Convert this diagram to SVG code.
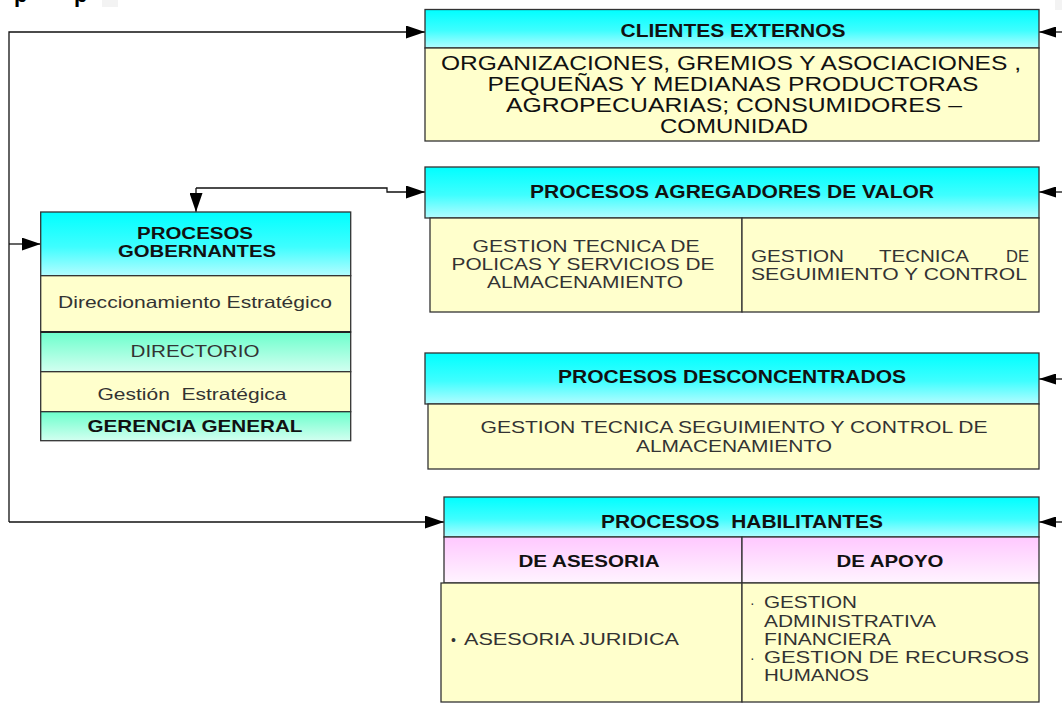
<svg xmlns="http://www.w3.org/2000/svg" width="1062" height="704" viewBox="0 0 1062 704">
<defs>
  <linearGradient id="cyan" x1="0" y1="0" x2="0" y2="1">
    <stop offset="0" stop-color="#00FFFF"/>
    <stop offset="0.55" stop-color="#3FFEFF"/>
    <stop offset="1" stop-color="#B4FCFF"/>
  </linearGradient>
  <linearGradient id="teal" x1="0" y1="0" x2="0" y2="1">
    <stop offset="0" stop-color="#6CFFCC"/>
    <stop offset="1" stop-color="#D2FFF0"/>
  </linearGradient>
  <linearGradient id="pink" x1="0" y1="0" x2="0" y2="1">
    <stop offset="0" stop-color="#FFC8FF"/>
    <stop offset="1" stop-color="#FFF4FF"/>
  </linearGradient>
  <marker id="arr" markerUnits="userSpaceOnUse" markerWidth="19" markerHeight="13" refX="19" refY="6.5" orient="auto">
    <path d="M0,0 L19,6.5 L0,13 z" fill="#000"/>
  </marker>
  <marker id="arrS" markerUnits="userSpaceOnUse" markerWidth="17" markerHeight="11" refX="17" refY="5.5" orient="auto">
    <path d="M0,0 L17,5.5 L0,11 z" fill="#000"/>
  </marker>
  <style>
    .box { stroke:#333; stroke-width:1.3; }
    .hdr { fill:url(#cyan); }
    .yel { fill:#FFFFCC; }
    .tea { fill:url(#teal); }
    .pnk { fill:url(#pink); }
    .conn { fill:none; stroke:#111; stroke-width:1.3; }
    text { font-family:"Liberation Sans", Arial, sans-serif; }
    .b { font-weight:bold; fill:#111; }
    .t { fill:#333; }
    .k { fill:#111; }
    .m { text-anchor:middle; }
  </style>
</defs>

<!-- page artifacts -->
<text x="14" y="2" font-family="'Liberation Serif', serif" font-weight="bold" font-size="22" fill="#000">p</text>
<text x="74" y="2" font-family="'Liberation Serif', serif" font-weight="bold" font-size="22" fill="#000">p</text>
<rect x="102" y="0" width="16" height="7" fill="#F3F3F3"/>
<rect x="1055" y="0" width="7" height="10" fill="#F3F3F3"/>

<g id="connectors">
  <path class="conn" d="M9,522 V32 H425" marker-end="url(#arr)"/>
  <path class="conn" d="M9,244 H40.7" marker-end="url(#arr)"/>
  <path class="conn" d="M9,522 H444" marker-end="url(#arr)"/>
  <path class="conn" d="M196,188 H387 V192 H425" marker-end="url(#arr)"/>
  <path class="conn" d="M196,188 V212" marker-end="url(#arr)"/>
  <path class="conn" d="M1062,32 H1039" marker-end="url(#arrS)"/>
  <path class="conn" d="M1062,192 H1039" marker-end="url(#arrS)"/>
  <path class="conn" d="M1062,379 H1039" marker-end="url(#arrS)"/>
  <path class="conn" d="M1062,522 H1039" marker-end="url(#arrS)"/>
</g>

<g id="clientes-externos">
  <rect class="box hdr" x="425" y="9.5" width="614" height="38.5"/>
  <rect class="box yel" x="425" y="48" width="614" height="93"/>
  <text class="b m" x="733" y="37" font-size="17.5" textLength="225" lengthAdjust="spacingAndGlyphs">CLIENTES EXTERNOS</text>
  <text class="k m" x="731" y="70" font-size="20.5" textLength="580" lengthAdjust="spacingAndGlyphs">ORGANIZACIONES, GREMIOS Y ASOCIACIONES ,</text>
  <text class="k m" x="733" y="91" font-size="20.5" textLength="491" lengthAdjust="spacingAndGlyphs">PEQUEÑAS Y MEDIANAS PRODUCTORAS</text>
  <text class="k m" x="734" y="112" font-size="20.5" textLength="456" lengthAdjust="spacingAndGlyphs">AGROPECUARIAS; CONSUMIDORES –</text>
  <text class="k m" x="734" y="133" font-size="20.5" textLength="148" lengthAdjust="spacingAndGlyphs">COMUNIDAD</text>
</g>

<g id="procesos-agregadores">
  <rect class="box hdr" x="425" y="167" width="614" height="51"/>
  <rect class="box yel" x="430" y="218" width="312" height="94"/>
  <rect class="box yel" x="742" y="218" width="297" height="94"/>
  <text class="b m" x="732" y="198" font-size="17.5" textLength="404" lengthAdjust="spacingAndGlyphs">PROCESOS AGREGADORES DE VALOR</text>
  <text class="t m" x="586" y="252" font-size="16.5" textLength="227" lengthAdjust="spacingAndGlyphs">GESTION TECNICA DE</text>
  <text class="t m" x="583" y="270" font-size="16.5" textLength="263" lengthAdjust="spacingAndGlyphs">POLICAS Y SERVICIOS DE</text>
  <text class="t m" x="585" y="288" font-size="16.5" textLength="196" lengthAdjust="spacingAndGlyphs">ALMACENAMIENTO</text>
  <text class="t" x="751" y="262" font-size="16.5" textLength="93" lengthAdjust="spacingAndGlyphs">GESTION</text>
  <text class="t" x="879" y="262" font-size="16.5" textLength="90" lengthAdjust="spacingAndGlyphs">TECNICA</text>
  <text class="t" x="1006" y="262" font-size="16.5" textLength="23" lengthAdjust="spacingAndGlyphs">DE</text>
  <text class="t" x="751" y="280" font-size="16.5" textLength="276" lengthAdjust="spacingAndGlyphs">SEGUIMIENTO Y CONTROL</text>
</g>

<g id="procesos-gobernantes">
  <rect class="box hdr" x="40.7" y="212" width="310" height="63.7"/>
  <rect class="box yel" x="40.7" y="275.7" width="310" height="56.3"/>
  <rect class="box tea" x="40.7" y="332" width="310" height="39.7"/>
  <rect class="box yel" x="40.7" y="371.7" width="310" height="40"/>
  <rect class="box tea" x="40.7" y="411.7" width="310" height="29"/>
  <line x1="40.7" y1="332" x2="350.7" y2="332" stroke="#222" stroke-width="2"/>
  <text class="b m" x="195" y="239" font-size="16" textLength="116" lengthAdjust="spacingAndGlyphs">PROCESOS</text>
  <text class="b m" x="197" y="257" font-size="16" textLength="158" lengthAdjust="spacingAndGlyphs">GOBERNANTES</text>
  <text class="t m" x="195" y="308" font-size="16.5" textLength="274" lengthAdjust="spacingAndGlyphs">Direccionamiento Estratégico</text>
  <text class="t m" x="195" y="357" font-size="16" textLength="129" lengthAdjust="spacingAndGlyphs">DIRECTORIO</text>
  <text class="t m" x="192" y="400" font-size="16.5" textLength="189" lengthAdjust="spacingAndGlyphs" style="white-space:pre">Gestión  Estratégica</text>
  <text class="b m" x="195" y="432" font-size="17" textLength="215" lengthAdjust="spacingAndGlyphs">GERENCIA GENERAL</text>
</g>

<g id="procesos-desconcentrados">
  <rect class="box hdr" x="425" y="353" width="614" height="51"/>
  <rect class="box yel" x="428" y="404" width="611" height="65"/>
  <text class="b m" x="732" y="383" font-size="17.5" textLength="348" lengthAdjust="spacingAndGlyphs">PROCESOS DESCONCENTRADOS</text>
  <text class="t m" x="734" y="433" font-size="16.5" textLength="507" lengthAdjust="spacingAndGlyphs">GESTION TECNICA SEGUIMIENTO Y CONTROL DE</text>
  <text class="t m" x="734" y="452" font-size="16.5" textLength="196" lengthAdjust="spacingAndGlyphs">ALMACENAMIENTO</text>
</g>

<g id="procesos-habilitantes">
  <rect class="box hdr" x="444" y="497" width="595" height="40"/>
  <rect class="box pnk" x="444" y="537" width="298" height="46"/>
  <rect class="box pnk" x="742" y="537" width="297" height="46"/>
  <rect class="box yel" x="441" y="583" width="301" height="119"/>
  <rect class="box yel" x="742" y="583" width="297" height="119"/>
  <text class="b m" x="742" y="528" font-size="17.5" textLength="282" lengthAdjust="spacingAndGlyphs" style="white-space:pre">PROCESOS  HABILITANTES</text>
  <text class="b m" x="589" y="567" font-size="16.5" textLength="141" lengthAdjust="spacingAndGlyphs">DE ASESORIA</text>
  <text class="b m" x="890" y="567" font-size="16.5" textLength="107" lengthAdjust="spacingAndGlyphs">DE APOYO</text>
  <text class="t" x="451" y="645" font-size="14">•</text>
  <text class="t" x="464" y="645" font-size="16.5" textLength="215" lengthAdjust="spacingAndGlyphs">ASESORIA JURIDICA</text>
  <text class="t" x="750" y="608" font-size="14">·</text>
  <text class="t" x="764" y="608" font-size="16.5" textLength="93" lengthAdjust="spacingAndGlyphs">GESTION</text>
  <text class="t" x="764" y="627" font-size="16.5" textLength="172" lengthAdjust="spacingAndGlyphs">ADMINISTRATIVA</text>
  <text class="t" x="764" y="645" font-size="16.5" textLength="127" lengthAdjust="spacingAndGlyphs">FINANCIERA</text>
  <text class="t" x="750" y="663" font-size="14">·</text>
  <text class="t" x="764" y="663" font-size="16.5" textLength="265" lengthAdjust="spacingAndGlyphs">GESTION DE RECURSOS</text>
  <text class="t" x="764" y="681" font-size="16.5" textLength="105" lengthAdjust="spacingAndGlyphs">HUMANOS</text>
</g>
</svg>
